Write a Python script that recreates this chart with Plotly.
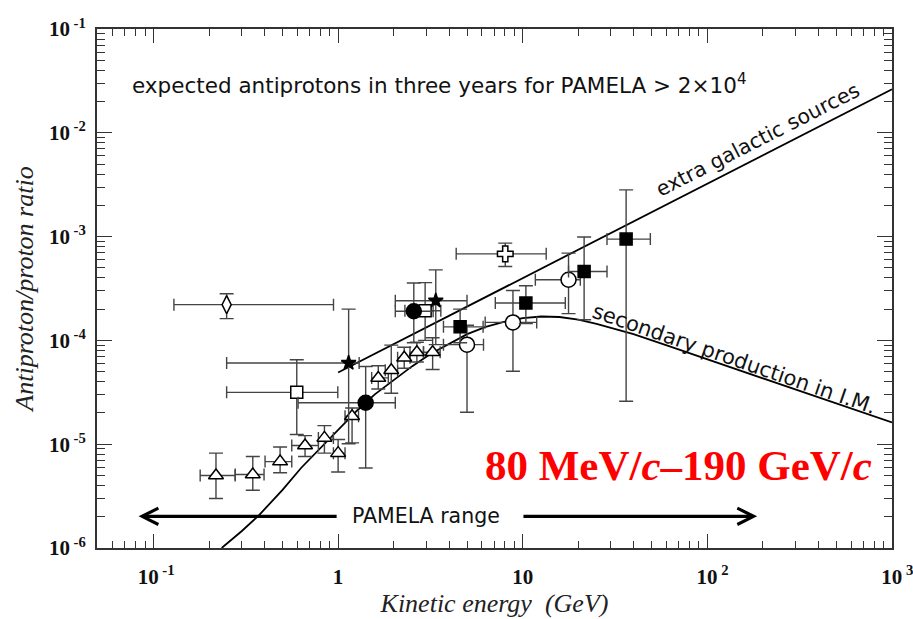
import plotly.graph_objects as go
import numpy as np

# ---------------- data ----------------
# open triangles
tri_E = [0.218, 0.345, 0.485, 0.662, 0.843, 1.0, 1.19, 1.65, 1.94, 2.28, 2.67, 3.25]
tri_R = [5.0e-6, 5.1e-6, 6.8e-6, 9.7e-6, 1.15e-5, 8.2e-6, 1.86e-5, 4.35e-5, 5.16e-5, 6.8e-5, 7.7e-5, 7.7e-5]
tri_hi = [8.2e-6, 7.6e-6, 9.4e-6, 1.21e-5, 1.51e-5, 1.11e-5, 2.23e-5, 5.7e-5, 9.0e-5, 8.6e-5, 9.6e-5, 1.06e-4]
tri_lo = [3.0e-6, 3.6e-6, 5.3e-6, 7.6e-6, 8.2e-6, 5.4e-6, 1.03e-5, 3.4e-5, 3.1e-5, 5.4e-5, 6.2e-5, 5.25e-5]
tri_Elo = [0.179, 0.277, 0.402, 0.561, 0.782, 0.943, 1.09, 1.52, 1.8, 2.1, 2.45, 2.9]
tri_Ehi = [0.277, 0.397, 0.561, 0.782, 0.943, 1.09, 1.29, 1.87, 2.1, 2.45, 2.9, 3.57]

# filled circles
fc_E = [1.41, 2.57]
fc_R = [2.51e-5, 1.91e-4]
fc_hi = [5.6e-5, 3.57e-4]
fc_lo = [5.9e-6, 9.5e-5]
fc_Elo = [0.607, 2.04]
fc_Ehi = [2.04, 3.27]

# stars
st_E = [1.14, 3.38]
st_R = [6.06e-5, 2.41e-4]
st_hi = [2.0e-4, 4.78e-4]
st_lo = [1.01e-5, 9.1e-5]
st_Elo = [0.249, 2.04]
st_Ehi = [1.3, 4.99]

# open squares
os_E = [0.597, 2.96]
os_R = [3.16e-5, 1.93e-4]
os_hi = [6.5e-5, 3.6e-4]
os_lo = [1.24e-5, 1.0e-4]
os_Elo = [0.249, 2.3]
os_Ehi = [0.996, 3.6]

# filled squares
fs_E = [4.58, 10.4, 21.5, 36.3]
fs_R = [1.35e-4, 2.29e-4, 4.61e-4, 9.46e-4]
fs_hi = [2.0e-4, 3.36e-4, 9.9e-4, 2.82e-3]
fs_lo = [9.5e-5, 1.45e-4, 1.58e-4, 2.59e-5]
fs_Elo = [3.72, 7.1, 17.7, 28.6]
fs_Ehi = [6.1, 17.0, 28.6, 49.1]

# open circles
oc_E = [4.99, 8.85, 17.7]
oc_R = [9.1e-5, 1.49e-4, 3.84e-4]
oc_hi = [1.4e-4, 3.03e-4, 6.93e-4]
oc_lo = [2.03e-5, 5.04e-5, 1.81e-4]
oc_Elo = [3.72, 6.26, 11.7]
oc_Ehi = [6.13, 11.9, 20.5]

# open cross
cr_E = [8.04]
cr_R = [6.82e-4]
cr_hi = [8.65e-4]
cr_lo = [5.15e-4]
cr_Elo = [4.36]
cr_Ehi = [13.4]

# open diamond
dm_E = [0.249]
dm_R = [2.21e-4]
dm_hi = [2.81e-4]
dm_lo = [1.62e-4]
dm_Elo = [0.129]
dm_Ehi = [0.944]

# model curves
sec_E = [0.234, 0.3, 0.37, 0.5, 0.63, 0.8, 1.0, 1.26, 1.58, 2.0, 2.51, 3.16, 4.0, 5.0, 6.3, 7.9,
         10, 12.6, 15.8, 20, 25.1, 31.6, 39.8, 63.1, 126, 251, 501, 1000]
sec_R = [1.0e-6, 1.45e-6, 2.04e-6, 3.63e-6, 5.9e-6, 9.1e-6, 1.35e-5, 2.09e-5, 3.02e-5, 4.17e-5,
         5.62e-5, 7.41e-5, 9.33e-5, 1.15e-4, 1.35e-4, 1.51e-4, 1.64e-4, 1.70e-4, 1.68e-4, 1.585e-4,
         1.445e-4, 1.30e-4, 1.15e-4, 8.7e-5, 5.69e-5, 3.72e-5, 2.45e-5, 1.62e-5]
eg_E = [1.0, 10, 100, 1000]
eg_R = [4.9e-5, 4.0e-4, 3.25e-3, 2.63e-2]

# PAMELA range (GeV) and arrow level
pam_lo, pam_hi, pam_gap_lo, pam_gap_hi, pam_R = 0.083, 186, 1.0, 9.9, 2.02e-6

x_ticks = [0.1, 1, 10, 100, 1000]
x_ticktext = ["\u00a010<sup> -1</sup>", "1", "10", "\u00a0\u00a010<sup> 2</sup>", "\u00a0\u00a010<sup> 3</sup>"]
y_ticks = [1e-6, 1e-5, 1e-4, 1e-3, 1e-2, 1e-1]
y_ticktext = ["10<sup> -6</sup>", "10<sup> -5</sup>", "10<sup> -4</sup>", "10<sup> -3</sup>",
              "10<sup> -2</sup>", "10<sup> -1</sup>"]

# ---------------- figure ----------------
EBC = "#444444"
fig = go.Figure()


def add_series(E, R, hi, lo, Elo, Ehi, symbol, size, fill):
    E = np.array(E); R = np.array(R)
    fig.add_trace(go.Scatter(
        x=E, y=R, mode="markers",
        marker=dict(symbol=symbol, size=size, color=fill,
                    line=dict(color="black", width=1.5)),
        error_y=dict(type="data", symmetric=False,
                     array=np.array(hi) - R, arrayminus=R - np.array(lo),
                     color=EBC, thickness=1.4, width=7),
        error_x=dict(type="data", symmetric=False,
                     array=np.array(Ehi) - E, arrayminus=E - np.array(Elo),
                     color=EBC, thickness=1.4, width=6),
        showlegend=False, hoverinfo="skip"))


# curves first (beneath markers)
fig.add_trace(go.Scatter(x=sec_E, y=sec_R, mode="lines", line=dict(color="black", width=1.8),
                         showlegend=False, hoverinfo="skip"))
fig.add_trace(go.Scatter(x=eg_E, y=eg_R, mode="lines", line=dict(color="black", width=1.8),
                         showlegend=False, hoverinfo="skip"))

add_series(dm_E, dm_R, dm_hi, dm_lo, dm_Elo, dm_Ehi, "diamond-tall", 13, "white")
add_series(os_E, os_R, os_hi, os_lo, os_Elo, os_Ehi, "square", 12, "white")
add_series(tri_E, tri_R, tri_hi, tri_lo, tri_Elo, tri_Ehi, "triangle-up", 13, "white")
add_series(st_E, st_R, st_hi, st_lo, st_Elo, st_Ehi, "star", 11, "black")
add_series(fc_E, fc_R, fc_hi, fc_lo, fc_Elo, fc_Ehi, "circle", 15, "black")
add_series(oc_E, oc_R, oc_hi, oc_lo, oc_Elo, oc_Ehi, "circle", 15, "white")
add_series(fs_E, fs_R, fs_hi, fs_lo, fs_Elo, fs_Ehi, "square", 12, "black")
add_series(cr_E, cr_R, cr_hi, cr_lo, cr_Elo, cr_Ehi, "cross", 13, "white")

SANS = "DejaVu Sans"
SERIF = "Liberation Serif"
lg = np.log10

annotations = [
    dict(x=lg(0.0745), y=lg(2.95e-2), xref="x", yref="y", xanchor="left", yanchor="middle",
         text="expected antiprotons in three years for PAMELA > 2\u00d710<sup>4</sup>",
         showarrow=False, font=dict(family=SANS, size=21.5, color="#111")),
    dict(x=lg(186), y=lg(8.6e-3), xref="x", yref="y", text="extra galactic sources",
         showarrow=False, textangle=-27, font=dict(family=SANS, size=20.5, color="#111")),
    dict(x=lg(140), y=lg(6.6e-5), xref="x", yref="y", text="secondary production in I.M.",
         showarrow=False, textangle=19, font=dict(family=SANS, size=21, color="#111")),
    dict(x=lg(3.0), y=lg(pam_R), xref="x", yref="y", text="PAMELA range",
         showarrow=False, font=dict(family=SANS, size=20.5, color="#111")),
    dict(x=lg(70), y=lg(6.3e-6), xref="x", yref="y",
         text="<b>80 MeV/<i>c</i>\u2013190 GeV/<i>c</i></b>",
         showarrow=False, font=dict(family=SERIF, size=43, color="#ff0000")),
    # arrows
    dict(x=lg(pam_lo), y=lg(pam_R), ax=lg(pam_gap_lo), ay=lg(pam_R), xref="x", yref="y",
         axref="x", ayref="y", text="", showarrow=True, arrowhead=5, arrowsize=1.0,
         arrowwidth=3.2, arrowcolor="black", standoff=0, startstandoff=0),
    dict(x=lg(pam_hi), y=lg(pam_R), ax=lg(pam_gap_hi), ay=lg(pam_R), xref="x", yref="y",
         axref="x", ayref="y", text="", showarrow=True, arrowhead=5, arrowsize=1.0,
         arrowwidth=3.2, arrowcolor="black", standoff=0, startstandoff=0),
]

minor_x = [m * 10.0 ** d for d in range(-2, 3) for m in range(2, 10)]
minor_y = [m * 10.0 ** d for d in range(-6, -1) for m in range(2, 10)]

axis_common = dict(type="log", showgrid=False, zeroline=False, showline=True,
                   linecolor="#333", linewidth=2, mirror="ticks", ticks="inside",
                   tickcolor="#333", tickwidth=1.3, tickmode="array",
                   ticklabeloverflow="allow", automargin=False,
                   tickfont=dict(family=SERIF, size=21, color="#111", weight="bold"))

fig.update_layout(
    width=913, height=619,
    margin=dict(l=97, r=21, t=29, b=71, autoexpand=False),
    paper_bgcolor="white", plot_bgcolor="white",
    showlegend=False,
    xaxis=dict(**axis_common, range=[-1.306, 3.0], ticklen=14,
               tickvals=x_ticks, ticktext=x_ticktext,
               minor=dict(ticks="inside", ticklen=7, tickcolor="#333", tickwidth=1,
                          tickmode="array", tickvals=minor_x),
               ticklabelstandoff=9,
               title=dict(text="Kinetic energy  (GeV)", standoff=6,
                          font=dict(family=SERIF, size=26, color="#222", style="italic"))),
    yaxis=dict(**axis_common, range=[-6, -1], ticklen=15,
               tickvals=y_ticks, ticktext=y_ticktext,
               minor=dict(ticks="inside", ticklen=8, tickcolor="#333", tickwidth=1,
                          tickmode="array", tickvals=minor_y),
               ticklabelstandoff=5,
               title=dict(text="Antiproton/proton ratio", standoff=8,
                          font=dict(family=SERIF, size=26, color="#222", style="italic"))),
    annotations=annotations,
)

fig.write_html("out.html")
